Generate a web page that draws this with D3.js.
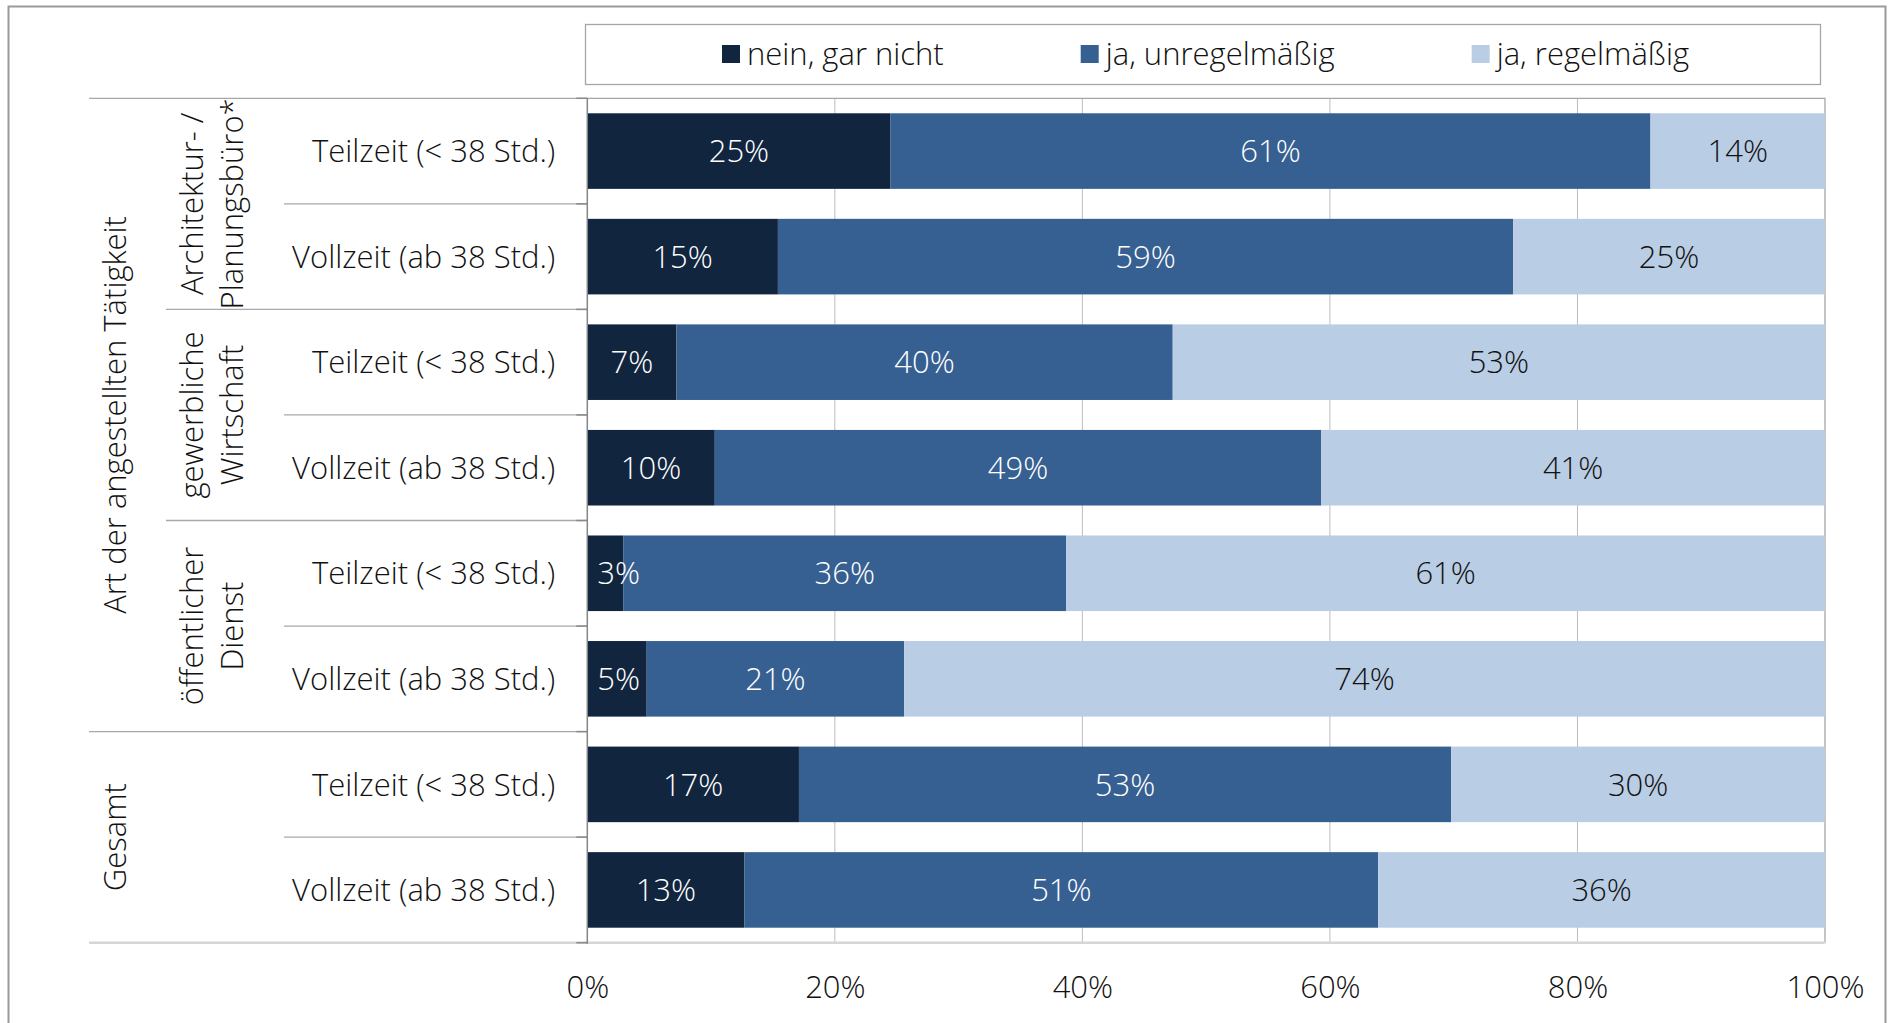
<!DOCTYPE html>
<html>
<head>
<meta charset="utf-8">
<script src="https://cdn.jsdelivr.net/npm/d3@7"></script>
<style>
  body { margin: 0; background: #fff; }
  svg text { font-family: "Open Sans", sans-serif; font-weight: 300; }
</style>
</head>
<body>
<div id="chart"></div>
<script>
// categories (top to bottom)
const rowLabels = [
  "Teilzeit (< 38 Std.)", "Vollzeit (ab 38 Std.)",
  "Teilzeit (< 38 Std.)", "Vollzeit (ab 38 Std.)",
  "Teilzeit (< 38 Std.)", "Vollzeit (ab 38 Std.)",
  "Teilzeit (< 38 Std.)", "Vollzeit (ab 38 Std.)"
];
const middleLabels = [
  { lines: ["Architektur- /", "Planungsbüro*"], from: 0, to: 1 },
  { lines: ["gewerbliche", "Wirtschaft"], from: 2, to: 3 },
  { lines: ["öffentlicher", "Dienst"], from: 4, to: 5 }
];
const outerLabels = [
  { text: "Art der angestellten Tätigkeit", from: 0, to: 5 },
  { text: "Gesamt", from: 6, to: 7 }
];

// series (percent)
const seriesNames = ["nein, gar nicht", "ja, unregelmäßig", "ja, regelmäßig"];
const neinValues  = [24.5, 15.4, 7.2, 10.3, 2.9, 4.8, 17.1, 12.7];
const unregValues = [61.4, 59.4, 40.1, 49.0, 35.8, 20.8, 52.7, 51.2];
const regValues   = [14.1, 25.2, 52.7, 40.7, 61.3, 74.4, 30.2, 36.1];
const xTicks = [0, 20, 40, 60, 80, 100];

const colors = ["#11253f", "#376092", "#b9cde5"];
const labelColors = ["#ffffff", "#ffffff", "#111111"];
const FS = 31;

/** layout */
const W = 1888, H = 1023;
const plot = { left: 587.3, right: 1825, top: 98.3, bottom: 942.7 };

const svg = d3.select("#chart").append("svg")
  .attr("width", W).attr("height", H);

// outer frame
svg.append("rect")
  .attr("x", 8.5).attr("y", 6.5)
  .attr("width", 1877).attr("height", 1030)
  .attr("fill", "none").attr("stroke", "#9a9a9a").attr("stroke-width", 2);

/** scales */
const x = d3.scaleLinear().domain([0, 100]).range([plot.left, plot.right]);
const y = d3.scaleBand()
  .domain(d3.range(rowLabels.length))
  .range([plot.top, plot.bottom])
  .paddingInner(0.284)
  .paddingOuter(0.142);

const rows = rowLabels.map((r, i) => ({ i, nein: neinValues[i], unreg: unregValues[i], reg: regValues[i] }));
const stack = d3.stack().keys(["nein", "unreg", "reg"]);
const stacked = stack(rows);

// gridlines
svg.append("g").selectAll("line")
  .data(xTicks.slice(1, -1))
  .join("line")
  .attr("x1", d => x(d)).attr("x2", d => x(d))
  .attr("y1", plot.top).attr("y2", plot.bottom)
  .attr("stroke", "#bdbdbd").attr("stroke-width", 1);

// plot border top + right
svg.append("path")
  .attr("d", `M${plot.left},${plot.top}H${plot.right}V${plot.bottom}`)
  .attr("fill", "none").attr("stroke", "#a6a6a6").attr("stroke-width", 1.3);

// bars
const layers = svg.append("g").selectAll("g")
  .data(stacked)
  .join("g")
  .attr("fill", (d, k) => colors[k]);

layers.selectAll("rect")
  .data(d => d)
  .join("rect")
  .attr("x", d => x(d[0]))
  .attr("width", d => x(d[1]) - x(d[0]))
  .attr("y", d => y(d.data.i))
  .attr("height", y.bandwidth());

// data labels
stacked.forEach((layer, k) => {
  svg.append("g").selectAll("text")
    .data(layer)
    .join("text")
    .attr("y", d => y(d.data.i) + y.bandwidth() / 2)
    .attr("dy", "0.36em")
    .attr("text-anchor", "middle")
    .attr("font-size", FS)
    .attr("fill", labelColors[k])
    .text(d => Math.round(d[1] - d[0]) + "%")
    .attr("x", function(d) {
      const w = this.getComputedTextLength();
      const c = (x(d[0]) + x(d[1])) / 2;
      return Math.max(c, plot.left + 10 + w / 2);
    });
});

/** category axis (left) */
const yAxis = d3.axisLeft(y)
  .tickSize(0)
  .tickPadding(32)
  .tickFormat(i => rowLabels[i]);

const yAxisG = svg.append("g")
  .attr("transform", `translate(${plot.left},0)`)
  .call(yAxis);
yAxisG.select(".domain").remove();
yAxisG.selectAll("text")
  .attr("font-size", FS)
  .attr("fill", "#111")
  .attr("dy", "0.36em")
  .style("font-family", "'Open Sans', sans-serif")
  .style("font-weight", 300);

// separators between categories
const step = y.step();
const boundaryY = i => plot.top + i * step;
const sepStart = i => {
  if (i === 0 || i === 6 || i === 8) return 89;
  if (i === 2 || i === 4) return 166;
  return 284;
};
const sepG = svg.append("g");
d3.range(0, rowLabels.length + 1).forEach(i => {
  const yy = boundaryY(i);
  const last = i === rowLabels.length;
  sepG.append("line")
    .attr("x1", sepStart(i)).attr("x2", last ? plot.right : plot.left)
    .attr("y1", yy).attr("y2", yy)
    .attr("stroke", last ? "#d6d6d6" : "#a8a8a8")
    .attr("stroke-width", last ? 2.5 : 1.3);
  sepG.append("line")
    .attr("x1", plot.left - 11).attr("x2", plot.left)
    .attr("y1", yy).attr("y2", yy)
    .attr("stroke", "#8a8a8a").attr("stroke-width", 1.5);
});
// axis line
sepG.append("line")
  .attr("x1", plot.left).attr("x2", plot.left)
  .attr("y1", plot.top).attr("y2", plot.bottom + 1)
  .attr("stroke", "#868686").attr("stroke-width", 1.5);

// middle level labels (rotated)
middleLabels.forEach(m => {
  const yc = (boundaryY(m.from) + boundaryY(m.to + 1)) / 2;
  const g = svg.append("g").attr("transform", `translate(0,${yc}) rotate(-90)`);
  m.lines.forEach((line, j) => {
    g.append("text")
      .attr("x", 0).attr("y", 203 + j * 40)
      .attr("text-anchor", "middle")
      .attr("font-size", FS)
      .attr("fill", "#111")
      .text(line);
  });
});

// outer level labels
outerLabels.forEach(o => {
  const yc = (boundaryY(o.from) + boundaryY(o.to + 1)) / 2;
  svg.append("text")
    .attr("transform", `translate(126,${yc}) rotate(-90)`)
    .attr("text-anchor", "middle")
    .attr("font-size", FS)
    .attr("fill", "#111")
    .text(o.text);
});

/** value axis (bottom) */
const xAxis = d3.axisBottom(x)
  .tickValues(xTicks)
  .tickSize(0)
  .tickPadding(0)
  .tickFormat(d => d + "%");
const xAxisG = svg.append("g")
  .attr("transform", `translate(0,${plot.bottom})`)
  .call(xAxis);
xAxisG.select(".domain").remove();
xAxisG.selectAll("text")
  .attr("y", 55)
  .attr("dy", 0)
  .attr("font-size", FS)
  .attr("fill", "#111")
  .style("font-family", "'Open Sans', sans-serif")
  .style("font-weight", 300);

/** legend */
const legend = svg.append("g").attr("id", "legend");
legend.append("rect")
  .attr("x", 585.5).attr("y", 24.5)
  .attr("width", 1235).attr("height", 60)
  .attr("fill", "#fff").attr("stroke", "#a6a6a6").attr("stroke-width", 1.3);

let lx = 722;
seriesNames.forEach((name, k) => {
  legend.append("rect")
    .attr("x", lx).attr("y", 45)
    .attr("width", 18).attr("height", 18)
    .attr("fill", colors[k]);
  const t = legend.append("text")
    .attr("x", lx + 25).attr("y", 65)
    .attr("font-size", FS)
    .attr("fill", "#111")
    .text(name);
  lx += 25 + t.node().getComputedTextLength() + 137;
});
</script>
</body>
</html>
